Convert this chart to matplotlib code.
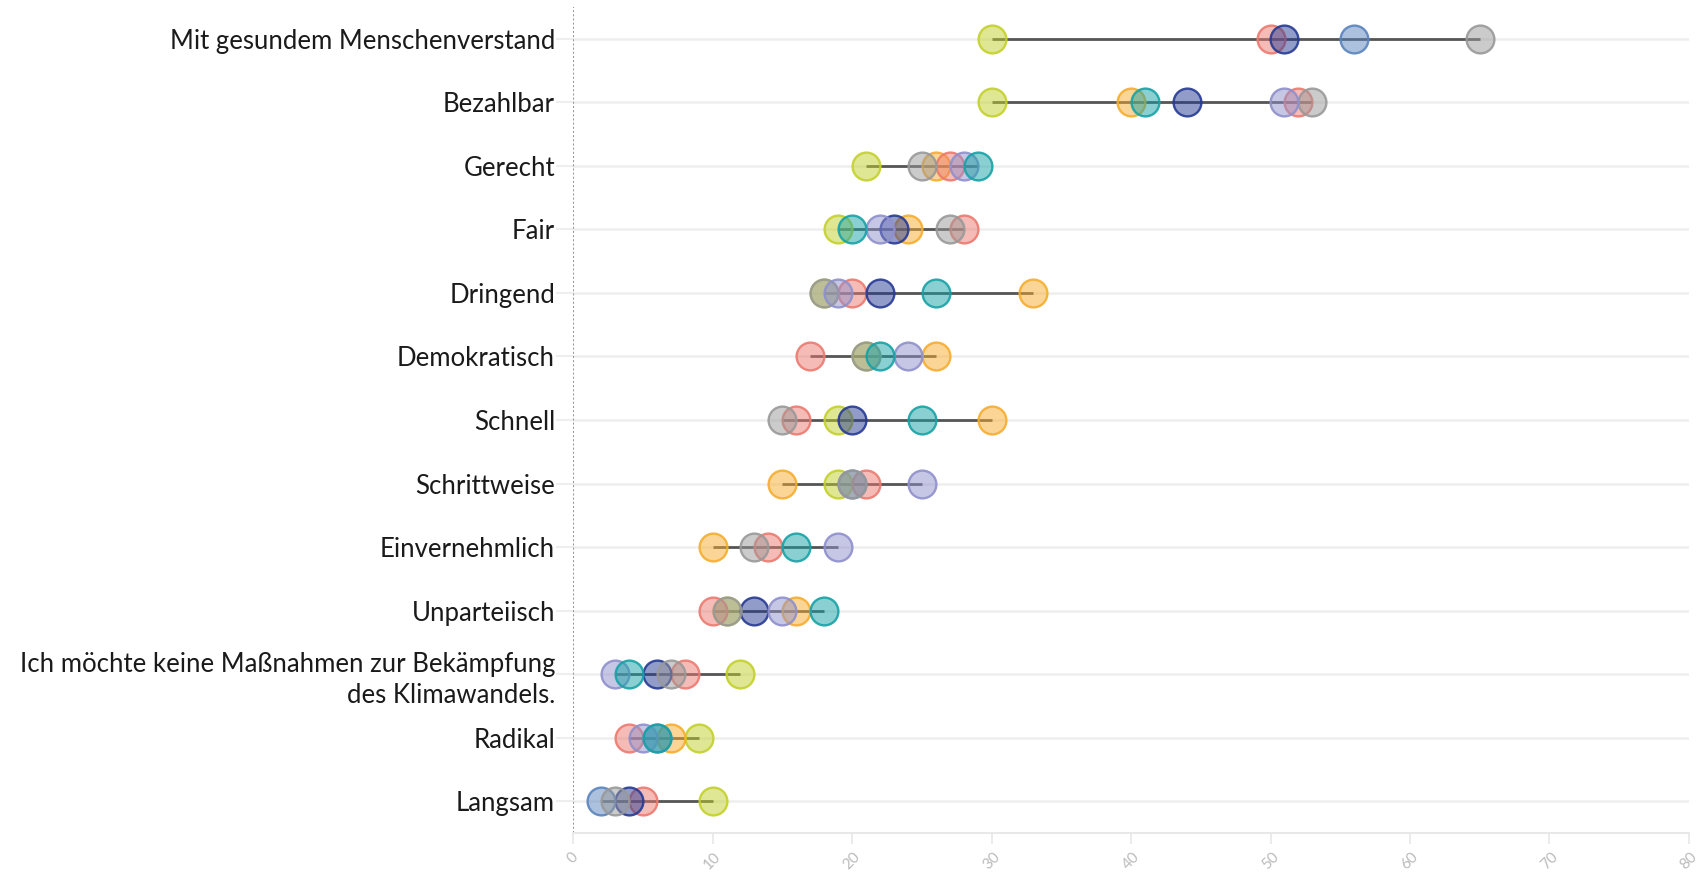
import numpy as np
import matplotlib
matplotlib.use('Agg')
import matplotlib.pyplot as plt

plt.rcParams['font.family'] = ['Lato', 'DejaVu Sans']

nan = np.nan

categories = ['Mit gesundem Menschenverstand', 'Bezahlbar', 'Gerecht', 'Fair', 'Dringend',
              'Demokratisch', 'Schnell', 'Schrittweise', 'Einvernehmlich', 'Unparteiisch',
              'Ich möchte keine Maßnahmen zur Bekämpfung\ndes Klimawandels.', 'Radikal', 'Langsam']

# one list per group, same order as categories (nan = no dot)
gruen   = [30, 30, 21, 19, 18, 21, 19, 19, nan, 11, 12, 9, 10]
orange  = [nan, 40, 26, 24, 33, 26, 30, 15, 10, 16, nan, 7, nan]
lachs   = [50, 52, 27, 28, 20, 17, 16, 21, 14, 10, 8, 4, 5]
marine  = [51, 44, nan, 23, 22, nan, 20, nan, nan, 13, 6, nan, 4]
stahl   = [56, nan, nan, nan, nan, nan, nan, 20, nan, nan, nan, 6, 2]
grau    = [65, 53, 25, 27, 18, 21, 15, 20, 13, 11, 7, nan, 3]
lavendel = [nan, 51, 28, 22, 19, 24, nan, 25, 19, 15, 3, 5, nan]
petrol  = [nan, 41, 29, 20, 26, 22, 25, nan, 16, 18, 4, 6, nan]

series = [gruen, orange, lachs, marine, stahl, grau, lavendel, petrol]
colors = ['#c3d12b', '#f6ad2f', '#ec7a70', '#263a94', '#5a84bd', '#999999', '#8f90cc', '#17a2a6']

xticks = [0, 10, 20, 30, 40, 50, 60, 70, 80]

fig = plt.figure(figsize=(16.99, 8.72), dpi=100)
ax = fig.add_axes([0.3373, 0.0447, 0.6568, 0.9473])

y = np.arange(len(categories))
vals = np.array(series, dtype=float)

# light row lines
for yi in y:
    ax.axhline(yi, color='#eeeeee', lw=1.8, zorder=0)

# range line per row
lo = np.nanmin(vals, axis=0)
hi = np.nanmax(vals, axis=0)
ax.hlines(y, lo, hi, color='#555555', lw=2.0, zorder=1)

for s, c in zip(series, colors):
    ax.scatter(s, y, s=400, facecolor=matplotlib.colors.to_rgba(c, 0.5),
               edgecolor=matplotlib.colors.to_rgba(c, 0.9), linewidth=1.7, zorder=3)

ax.axvline(0, color='#999999', lw=1.5, ls=(0, (1.0, 1.0)), zorder=2)

ax.set_xlim(0, 80)
ax.set_ylim(len(categories) - 0.5, -0.5)
ax.set_xticks(xticks)
ax.set_xticklabels([str(t) for t in xticks], rotation=45, ha='center', va='top',
                   color='#bbbbbb', fontsize=11)
ax.set_yticks(y)
ax.set_yticklabels(categories, fontsize=18.5, color='#1a1a1a')
for lab in ax.get_yticklabels():
    lab.set_multialignment('right')
    lab.set_linespacing(1.3)

ax.tick_params(axis='y', length=12, color='#eeeeee', width=1.5, pad=1)
ax.tick_params(axis='x', length=8, color='#e8e8e8', width=1.2, pad=4)

for side in ['top', 'right', 'left']:
    ax.spines[side].set_visible(False)
ax.spines['bottom'].set_color('#e8e8e8')
ax.spines['bottom'].set_linewidth(1.5)

fig.savefig('out.png', dpi=100, facecolor='white')
